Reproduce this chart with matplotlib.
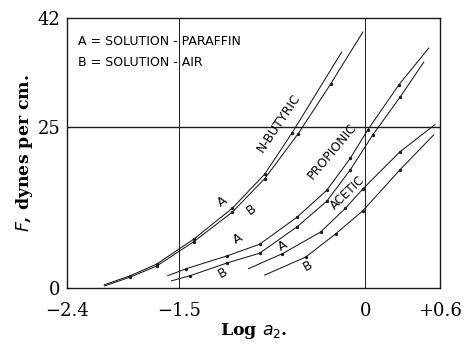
import matplotlib.pyplot as plt

# data (log a2, F in dynes/cm)
butyric_a_x = [-2.10, -1.89, -1.68, -1.38, -1.07, -0.81, -0.59, -0.19]
butyric_a_y = [0.5, 1.9, 3.7, 7.6, 12.4, 17.7, 24.1, 36.7]
butyric_b_x = [-2.10, -1.89, -1.68, -1.38, -1.07, -0.81, -0.54, -0.28, -0.02]
butyric_b_y = [0.3, 1.7, 3.4, 7.2, 11.8, 17.0, 24.0, 31.7, 39.8]

propionic_a_x = [-1.59, -1.44, -1.11, -0.85, -0.55, -0.31, -0.12, 0.02, 0.27, 0.51]
propionic_a_y = [1.9, 3.0, 5.0, 6.8, 11.0, 15.2, 20.2, 24.6, 31.6, 37.3]
propionic_b_x = [-1.56, -1.41, -1.11, -0.85, -0.55, -0.31, -0.12, 0.06, 0.28, 0.47]
propionic_b_y = [1.1, 1.9, 3.9, 5.4, 9.5, 13.5, 18.4, 23.8, 29.7, 35.1]

acetic_a_x = [-0.94, -0.67, -0.36, -0.16, -0.02, 0.28, 0.56]
acetic_a_y = [3.0, 5.3, 8.7, 12.4, 15.4, 21.2, 25.4]
acetic_b_x = [-0.81, -0.48, -0.24, -0.02, 0.28, 0.55]
acetic_b_y = [2.0, 4.8, 8.4, 12.0, 18.4, 23.8]

xticks = [-2.4, -1.5, 0, 0.6]
xticklabels = ['\u22122.4', '\u22121.5', '0', '+0.6']
yticks = [0, 25, 42]

fig = plt.figure(figsize=(4.69, 3.44), dpi=100)
ax = fig.add_axes([0.143, 0.163, 0.795, 0.785])

ink = '#1a1a1a'
curves = [
    (butyric_a_x, butyric_a_y), (butyric_b_x, butyric_b_y),
    (propionic_a_x, propionic_a_y), (propionic_b_x, propionic_b_y),
    (acetic_a_x, acetic_a_y), (acetic_b_x, acetic_b_y),
]
for cx, cy in curves:
    ax.plot(cx, cy, '-', color=ink, lw=0.75, marker='o', markersize=1.4,
            markevery=list(range(1, len(cx) - 1)))

# reference lines
ax.axvline(-1.5, color=ink, lw=0.7)
ax.axvline(0, color=ink, lw=0.7)
ax.axhline(25, color=ink, lw=1.0)

ax.set_xlim(-2.4, 0.6)
ax.set_ylim(0, 42)
ax.set_xticks(xticks)
ax.set_xticklabels(xticklabels)
ax.set_yticks(yticks)
ax.tick_params(length=0, labelsize=13)
ax.tick_params(axis='x', pad=10)
ax.tick_params(axis='y', pad=5)
for lab in ax.get_xticklabels() + ax.get_yticklabels():
    lab.set_family('DejaVu Serif')
for s in ax.spines.values():
    s.set_linewidth(1.0)
    s.set_color(ink)

ax.set_xlabel('Log $a_2$.', family='DejaVu Serif', fontsize=12.5, fontweight='bold', labelpad=1)
ax.set_ylabel('$F$, dynes per cm.', family='DejaVu Serif', fontsize=12.5, fontweight='bold', labelpad=2)

# key
ax.text(-2.31, 38.3, 'A = SOLUTION - PARAFFIN', fontsize=9, va='center')
ax.text(-2.31, 35.0, 'B = SOLUTION - AIR', fontsize=9, va='center')

# curve names
ax.text(-0.70, 25.6, 'N-BUTYRIC', fontsize=9, rotation=56, ha='center', va='center')
ax.text(-0.27, 21.2, 'PROPIONIC', fontsize=9, rotation=50, ha='center', va='center')
ax.text(-0.145, 14.8, 'ACETIC', fontsize=8.5, rotation=44, ha='center', va='center')

# A / B tags
for tx, ty, t, r in [(-1.15, 13.4, 'A', 35), (-0.92, 12.2, 'B', 35),
                     (-1.03, 7.6, 'A', 30), (-1.15, 2.4, 'B', 30),
                     (-0.66, 6.6, 'A', 30), (-0.46, 3.4, 'B', 30)]:
    ax.text(tx, ty, t, fontsize=9, rotation=r, ha='center', va='center')

fig.savefig('out.png', dpi=100)
